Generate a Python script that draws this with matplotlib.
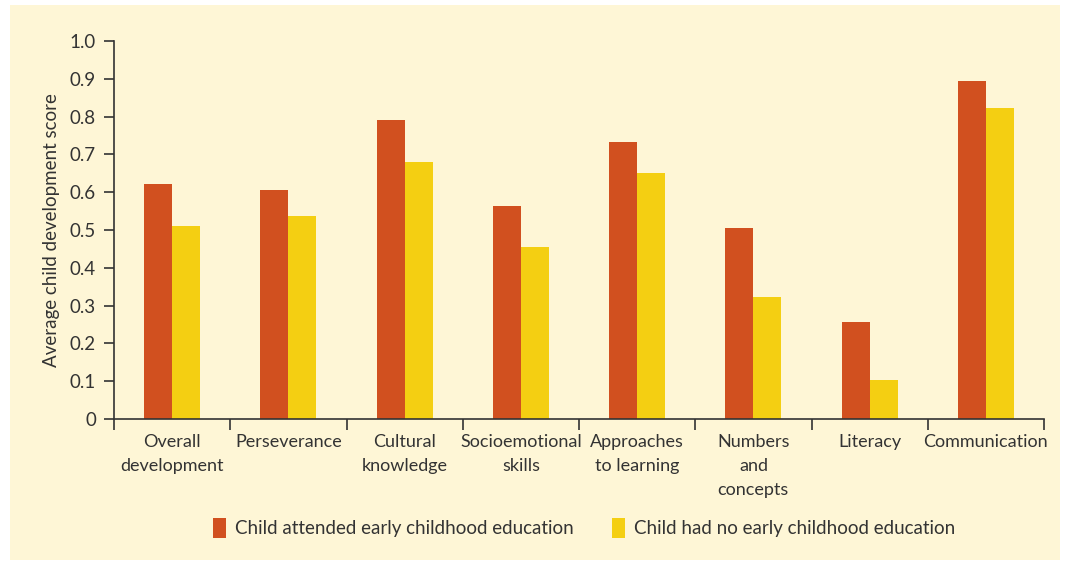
import numpy as np
import matplotlib.pyplot as plt
from matplotlib.patches import Rectangle

plt.rcParams['font.family'] = ['Lato', 'DejaVu Sans']

categories = ['Overall\ndevelopment', 'Perseverance', 'Cultural\nknowledge',
              'Socioemotional\nskills', 'Approaches\nto learning', 'Numbers\nand\nconcepts',
              'Literacy', 'Communication']
attended = [0.622, 0.606, 0.791, 0.563, 0.733, 0.505, 0.257, 0.894]
no_ece = [0.511, 0.537, 0.680, 0.455, 0.651, 0.323, 0.103, 0.823]
series_names = ['Child attended early childhood education',
                'Child had no early childhood education']

orange = '#d1501f'
yellow = '#f4cf12'
cream = '#fef6d6'
ink = '#333333'
fs = 13.5

fig = plt.figure(figsize=(10.69, 5.63), dpi=100)
fig.patch.set_facecolor('white')
# cream panel behind the whole chart
fig.patches.append(Rectangle((10 / 1069, 3 / 563), 1050 / 1069, 555 / 563,
                             transform=fig.transFigure, facecolor=cream,
                             edgecolor='none', zorder=-1))

ax = fig.add_axes([114 / 1069, 1 - 419 / 563, 930 / 1069, 378 / 563])
ax.set_facecolor('none')

x = np.arange(len(categories)) + 0.5
w = 0.241
b1 = ax.bar(x - w / 2, attended, w, color=orange, label=series_names[0])
b2 = ax.bar(x + w / 2, no_ece, w, color=yellow, label=series_names[1])

ax.set_xlim(0, len(categories))
ax.set_ylim(0, 1.0)
ax.set_yticks(np.arange(0, 1.01, 0.1))
ax.set_yticklabels(['0'] + ['%.1f' % v for v in np.arange(0.1, 1.01, 0.1)])

ax.set_xticks(np.arange(len(categories) + 1))
ax.set_xticklabels([])
ax.set_xticks(x, minor=True)
ax.set_xticklabels(categories, minor=True, fontsize=13, color=ink, linespacing=1.6)
ax.tick_params(axis='x', which='major', length=8, width=1.2, color=ink, direction='out')
ax.tick_params(axis='x', which='minor', length=0, pad=11)
ax.tick_params(axis='y', length=7, width=1.2, color=ink, labelsize=fs,
               labelcolor=ink, pad=6)

for s in ['top', 'right']:
    ax.spines[s].set_visible(False)
for s in ['left', 'bottom']:
    ax.spines[s].set_color(ink)
    ax.spines[s].set_linewidth(1.2)

ax.set_ylabel('Average child development score', fontsize=fs, color=ink, labelpad=7)

fig.legend(handles=[b1, b2], loc='center', bbox_to_anchor=(584 / 1069, 1 - 528 / 563),
           ncol=2, frameon=False, fontsize=fs, labelcolor=ink,
           handlelength=0.7, handleheight=1.2, handletextpad=0.5, columnspacing=2.0)

fig.savefig('out.png', dpi=100, facecolor=fig.get_facecolor())
